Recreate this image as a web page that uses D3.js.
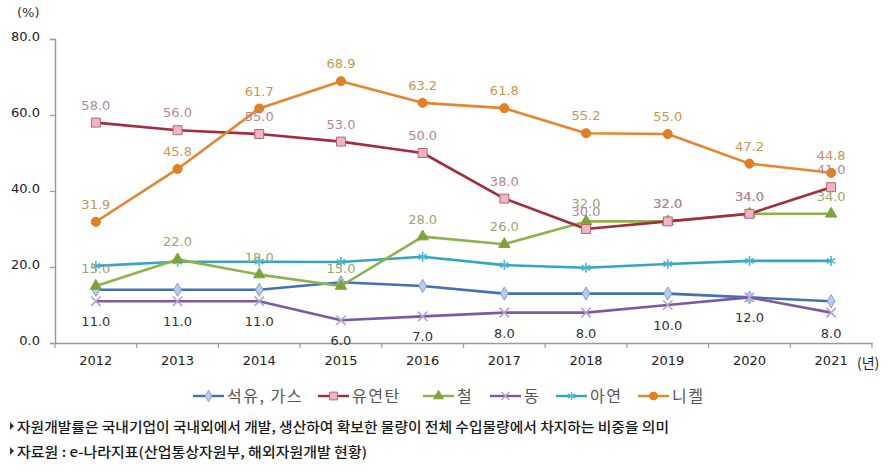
<!DOCTYPE html>
<html><head><meta charset="utf-8">
<script src="https://cdn.jsdelivr.net/npm/d3@7"></script>
<style>
html,body{margin:0;padding:0;background:#fff;}
svg{display:block;}
</style></head>
<body>
<svg id="c" width="896" height="473"></svg>
<script>
const years = ["2012","2013","2014","2015","2016","2017","2018","2019","2020","2021"];
const seriesNames = ["석유, 가스","유연탄","철","동","아연","니켈"];
const oilGas = [14.0,14.0,14.0,16.0,15.0,13.0,13.0,13.0,12.0,11.0];
const coal   = [58.0,56.0,55.0,53.0,50.0,38.0,30.0,32.0,34.0,41.0];
const iron   = [15.0,22.0,18.0,15.0,28.0,26.0,32.0,32.0,34.0,34.0];
const copper = [11.0,11.0,11.0,6.0,7.0,8.0,8.0,10.0,12.0,8.0];
const zinc   = [20.3,21.4,21.4,21.3,22.7,20.5,19.8,20.8,21.6,21.6];
const nickel = [31.9,45.8,61.7,68.9,63.2,61.8,55.2,55.0,47.2,44.8];
const yTicks = [0,20,40,60,80];
const footnotes = ["자원개발률은 국내기업이 국내외에서 개발, 생산하여 확보한 물량이 전체 수입물량에서 차지하는 비중을 의미",
                   "자료원 : e-나라지표(산업통상자원부, 해외자원개발 현황)"];

const svg = d3.select("#c");
const FONT = "'DejaVu Sans', Verdana, sans-serif";
const KFONT = "'Noto Sans CJK KR', sans-serif";
const x = d3.scaleBand().domain(years).range([55, 872]);
const cx = d => x(d) + x.bandwidth()/2;
const y = d3.scaleLinear().domain([0,80]).range([343,39]);

// y axis
const ya = svg.append("g").attr("transform","translate(55,0)")
  .call(d3.axisLeft(y).tickValues(yTicks).tickFormat(d3.format(".1f")).tickSize(5).tickPadding(10));
ya.select(".domain").attr("stroke","#9a9a9a").attr("stroke-width",1.5);
ya.selectAll(".tick line").attr("stroke","#9a9a9a").attr("stroke-width",1.2);
ya.selectAll("text").attr("font-family",FONT).attr("font-size",13).attr("fill","#222").attr("dy","0.1em");

// x axis
const xa = svg.append("g").attr("transform","translate(0,343)")
  .call(d3.axisBottom(x).tickSize(0).tickPadding(13));
xa.select(".domain").attr("stroke","#9a9a9a").attr("stroke-width",1.5);
xa.selectAll("text").attr("font-family",FONT).attr("font-size",13).attr("fill","#222");
const bounds = years.map(d => x(d)).concat([x.range()[1]]);
svg.append("g").selectAll("line").data(bounds).join("line")
  .attr("x1",d=>d).attr("x2",d=>d).attr("y1",343).attr("y2",348)
  .attr("stroke","#9a9a9a").attr("stroke-width",1.2);

svg.append("text").attr("x",17).attr("y",17).attr("font-family",FONT).attr("font-size",13).attr("fill","#333").text("(%)");
svg.append("text").attr("x",857).attr("y",368).attr("font-family",KFONT).attr("font-size",14).attr("fill","#222").text("(년)");

const defs = [
  {name:seriesNames[0], vals:oilGas, line:"#4470b8", sym:d3.symbolDiamond, size:50, fill:"#b9cde8", stroke:"#7d9fd2", label:null},
  {name:seriesNames[4], vals:zinc,   line:"#35a6c2", sym:d3.symbolAsterisk, size:70, fill:"none", stroke:"#4db8d2", label:null},
  {name:seriesNames[3], vals:copper, line:"#7a5aa6", sym:d3.symbolTimes, size:60, fill:"none", stroke:"#b3a2cf", label:"#333333", below:true},
  {name:seriesNames[2], vals:iron,   line:"#8db44a", sym:d3.symbolTriangle, size:55, fill:"#7ca43a", stroke:"#7ca43a", label:"#9ea46e"},
  {name:seriesNames[1], vals:coal,   line:"#a32c3e", sym:d3.symbolSquare, size:80, fill:"#f0b5c2", stroke:"#b86576", label:"#b3879a"},
  {name:seriesNames[5], vals:nickel, line:"#e8852c", sym:d3.symbolCircle, size:65, fill:"#e27f22", stroke:"#e27f22", label:"#c99650"}
];

const line = d3.line().x((d,i)=>cx(years[i])).y(d=>y(d));
defs.forEach(s => {
  const g = svg.append("g");
  g.append("path").attr("d",line(s.vals)).attr("fill","none").attr("stroke",s.line).attr("stroke-width",2.6).attr("stroke-linejoin","round");
  g.selectAll("path.m").data(s.vals).join("path").attr("class","m")
    .attr("transform",(d,i)=>`translate(${cx(years[i])},${y(d)})`)
    .attr("d",d3.symbol().type(s.sym).size(s.size))
    .attr("fill",s.fill).attr("stroke",s.stroke).attr("stroke-width",s.fill==="none"?1.6:1);
});
defs.forEach(s => {
  if (!s.label) return;
  svg.append("g").selectAll("text").data(s.vals).join("text")
    .attr("x",(d,i)=>cx(years[i])).attr("y",d=> s.below ? y(d)+25 : y(d)-13)
    .attr("text-anchor","middle").attr("font-family",FONT).attr("font-size",13)
    .attr("fill",s.label).text(d=>d3.format(".1f")(d));
});

// legend
const legendOrder = [0,1,2,3,4,5].map(i=>defs.find(d=>d.name===seriesNames[i]));
const legX = [193, 318, 423, 490, 556, 638];
const lg = svg.append("g");
legendOrder.forEach((s,i) => {
  const x0 = legX[i], yy = 396;
  lg.append("line").attr("x1",x0).attr("x2",x0+31).attr("y1",yy).attr("y2",yy).attr("stroke",s.line).attr("stroke-width",2.4);
  lg.append("path").attr("transform",`translate(${x0+15.5},${yy})`).attr("d",d3.symbol().type(s.sym).size(s.size*0.75))
    .attr("fill",s.fill).attr("stroke",s.stroke).attr("stroke-width",s.fill==="none"?1.4:1);
  lg.append("text").attr("x",x0+34).attr("y",yy+6).attr("font-family",KFONT).attr("font-size",16)
    .attr("letter-spacing",1.5).attr("fill","#555").text(s.name);
});

// footnotes
const fy = [432, 457], fw = [652, 350];
footnotes.forEach((t,i) => {
  svg.append("path").attr("d",`M10,${fy[i]-10} L14,${fy[i]-6} L10,${fy[i]-2} Z`).attr("fill","#333");
  svg.append("text").attr("x",17).attr("y",fy[i]).attr("font-family",KFONT)
    .attr("font-size",13.5).attr("font-weight",500).attr("fill","#1a1a1a")
    .attr("textLength",fw[i]).attr("lengthAdjust","spacingAndGlyphs").text(t);
});
</script>
</body></html>
